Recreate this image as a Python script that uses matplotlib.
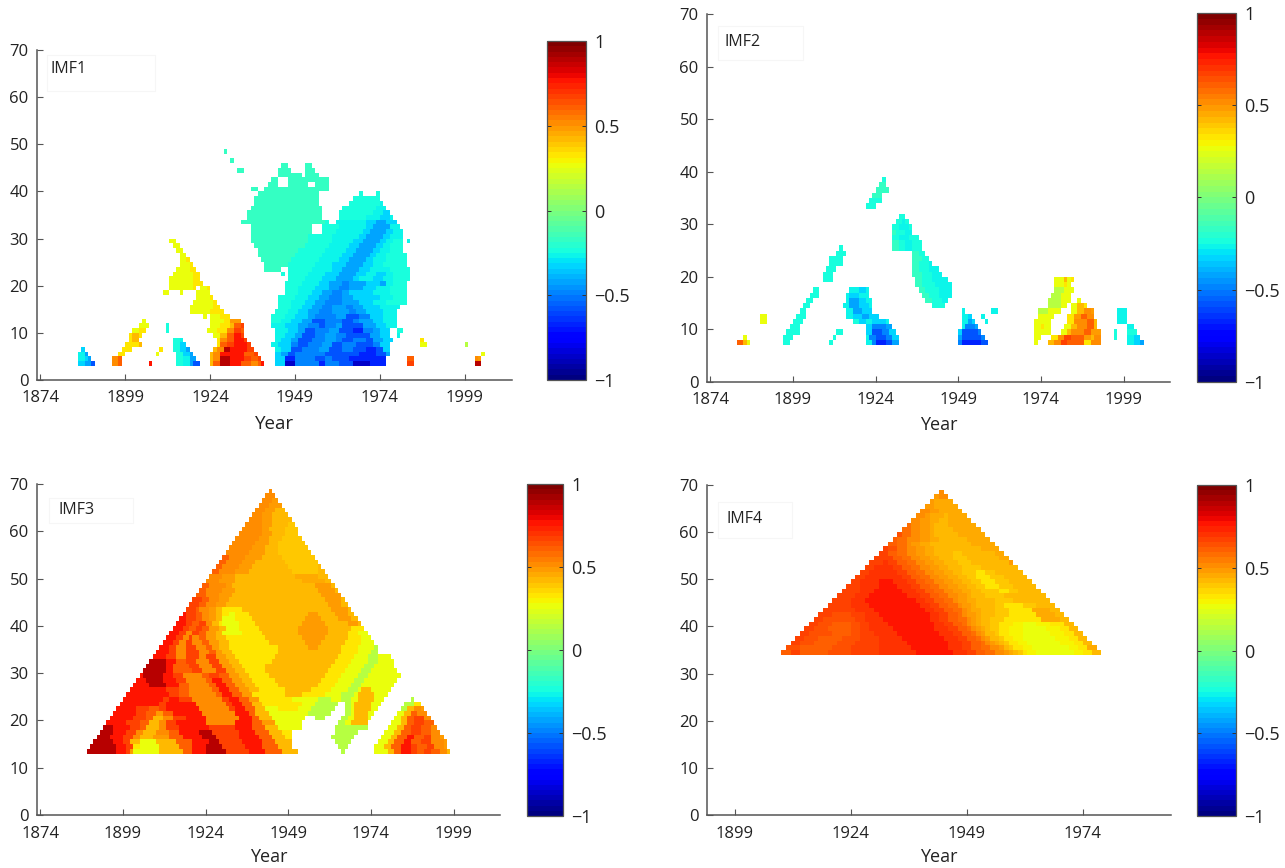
import numpy as np
import matplotlib
matplotlib.use("Agg")
import matplotlib.pyplot as plt
from matplotlib.patches import Rectangle

plt.rcParams['font.family'] = ['Open Sans', 'DejaVu Sans']

LEVEL_CHARS = list("abcdefghijklmnopqrstuLMNOPQR")
LEVEL_VALUES = [-0.85, -0.68, -0.57, -0.49, -0.41, -0.34, -0.28, -0.23, -0.18, 0.0, 0.15,
                0.25, 0.34, 0.42, 0.48, 0.53, 0.6, 0.67, 0.76, 0.88, 0.97,
                0.29, 0.38, 0.45, 0.505, 0.565, 0.635, 0.715]

YEAR_TICKS = [1874, 1899, 1924, 1949, 1974, 1999]
YEAR_TICKS_4 = [1899, 1924, 1949, 1974]
DEPTH_TICKS = [0, 10, 20, 30, 40, 50, 60, 70]
CBAR_TICKS = [-1, -0.5, 0, 0.5, 1]
CBAR_LABELS = ['\u22121', '\u22120.5', '0', '0.5', '1']

# each row: window value -> "start-year(offset from 1800)+level" runs; '.' = no value
IMF1_ROWS = {
 3: "85f 87e 89c 90. 95p 97q 98. 106s 107. 114h 116g 118e 119c 121. 124n 125q 127t 130s 133q 136p 138q 139s 140. 143f 146a 149d 156b 158d 162c 166a 171b 176. 182r 184. 202t 204.",
 4: "85g 87f 88e 89. 95p 97q 98. 114h 116g 118e 120. 124n 125p 127t 130s 134r 136q 138r 139. 143f 146b 149d 155c 158d 160c 165b 171b 176. 182q 184. 202p 203o 204.",
 5: "85g 87e 88. 97m 99. 108l 109. 114h 116f 118e 119. 124n 125p 127s 134q 137r 138. 143f 145e 147c 149d 158c 165c 168b 173c 176e 177. 204l 205.",
 6: "86f 87. 98m 101. 109m 110. 113h 115f 117e 118. 125n 126p 128t 130s 135r 137. 143g 145f 148c 151d 156e 159c 163d 166c 170b 173c 175f 177.",
 7: "99m 103n 104. 113h 115f 117. 126m 127q 129r 131s 135r 136. 142g 144f 148d 150c 153d 157e 160c 163d 167c 170c 172d 174f 177. 186l 188. 199k 200.",
 8: "100m 101n 103. 113h 115g 116. 126m 127p 129q 131s 134r 135. 143g 145f 148e 150c 154d 158e 161d 163c 166d 170c 172e 175f 178. 186m 187.",
 9: "100m 101n 103m 104. 125l 127n 129q 131s 133r 134. 143g 146f 149e 151c 155d 158e 161d 164c 168c 171e 174f 177. 179g 180.",
 10: "101l 103m 105. 111h 112. 123l 126m 129p 131r 133q 134. 143g 147f 150e 152c 155d 159e 162c 166b 169d 172e 174f 177. 179h 181.",
 11: "103l 106. 111h 112. 124l 127m 130n 131q 133r 134. 142g 146f 150e 153d 156c 158d 161e 163c 167c 169e 173f 176g 179.",
 12: "104l 105. 124l 128m 130o 133. 142h 145g 148f 151e 154c 158d 161d 163c 166d 168e 172f 175g 179.",
 13: "122l 123. 124l 127m 130. 142h 146g 149f 153e 155d 158d 161e 164c 166c 168d 171f 175g 179.",
 14: "118l 124m 128. 143h 147g 150f 153e 156d 160e 162e 165d 167e 170f 175g 179.",
 15: "118l 125m 127. 144h 148g 151f 154e 157d 160e 164d 166e 169f 174g 180.",
 16: "119l 125m 126. 144h 148g 152f 155e 158d 161d 163e 165e 168f 172g 176h 182.",
 17: "120l 124m 125. 144h 149g 153f 156e 159d 163e 166f 170f 174g 178h 182.",
 18: "110l 112. 115l 116. 120l 124. 146h 150g 154f 157e 160d 163e 165f 168f 172g 177h 182.",
 19: "112l 119m 120. 121l 123m 124. 146h 150g 155f 159e 162d 165e 169f 173g 177h 182.",
 20: "112l 119m 122. 146h 151g 156f 159e 163d 165e 170f 174e 176g 178h 182.",
 21: "112l 119m 121. 147h 152g 157f 161e 164e 166f 168g 172f 175g 178h 183.",
 22: "113l 119m 121. 145h 146. 147h 153g 158f 162e 165e 167f 170g 173f 176g 178h 183.",
 23: "114l 118m 120. 140i 145. 147h 154g 160f 163e 166e 168f 171g 174g 177h 183.",
 24: "115l 118m 119. 140i 147h 155g 160f 164e 167e 169f 172g 175h 182.",
 25: "115l 117m 118. 139i 148h 156g 162f 165e 168e 170f 172g 176h 182.",
 26: "115l 117. 138i 149h 157g 163f 166e 169e 171f 173g 176h 182.",
 27: "114l 116. 138i 150h 158g 164f 167e 170e 172f 174g 177h 181.",
 28: "113l 115. 137i 152h 159g 165f 168e 171e 173f 175g 177h 181.",
 29: "112l 114. 136i 153h 160g 166f 169e 172e 174f 176g 178h 181. 182g 183.",
 30: "136i 153h 160g 168f 170e 173e 175f 177g 181.",
 31: "136i 154. 157h 161g 169f 171e 174e 176f 178g 181.",
 32: "136i 154. 157h 162g 170f 172e 174e 177g 180.",
 33: "133i 158h 159. 161g 170f 173e 176f 179.",
 34: "135i 157. 162h 170g 174f 177g 178.",
 35: "135i 157. 162h 172g 175f 177.",
 36: "136i 157. 163h 173g 176.",
 37: "137i 156. 165h 174g 175.",
 38: "137i 156. 166h 174.",
 39: "138i 156. 168h 169. 173h 174.",
 40: "136i 138. 140i 159.",
 41: "141i 144. 147i 153. 155i 159.",
 42: "142i 144. 147i 159.",
 43: "144i 151. 152i 156.",
 44: "132i 134. 144i 148. 152i 155.",
 45: "145i 147. 152i 154.",
 46: "130i 131.",
 48: "128i 129.",
}

IMF2_ROWS = {
 7: "82q 84n 85l 86. 96h 98. 110h 111. 121g 123d 124b 127c 129e 131. 149d 150b 156c 158. 172l 173. 176n 178p 180r 182q 187m 189p 192. 200g 202f 204e 205.",
 8: "84l 85. 96h 99. 111h 112. 121g 122d 124c 127d 129f 131. 149e 150c 156d 157. 172l 174. 177m 179p 181r 183q 187o 189n 190p 192. 196h 197. 200g 202f 204.",
 9: "97h 101. 112h 114. 121f 123c 126d 128f 130. 149f 150c 155d 156. 172l 177. 180l 182n 183p 187q 189o 192. 196h 197. 200h 203.",
 10: "98h 101. 121f 123d 127e 129. 150g 151d 154e 155. 172l 174m 175l 177. 181l 183n 185p 188q 190n 191. 200g 202.",
 11: "89l 91. 99h 102. 117h 119f 121g 123f 127g 128. 150g 152e 153f 154. 157g 158. 172l 177. 182m 184p 188q 190n 191. 197g 200.",
 12: "89l 91. 100h 103. 115g 117f 120e 122f 125. 150g 152f 153. 156g 157. 173l 178. 182m 184o 186q 188p 190. 197g 200.",
 13: "101h 103. 115g 117e 120f 123. 150g 151. 159g 161. 173k 176l 180. 183l 185n 187p 189o 190. 197g 200.",
 14: "102h 104. 114g 116e 119f 122g 123. 141h 145. 176k 180l 182. 183l 185n 187m 188.",
 15: "103h 105. 115g 116e 119f 121g 123. 139i 141h 144g 146. 176k 180l 183. 185l 186.",
 16: "104h 107. 115g 116f 119g 122. 138i 140h 143g 147. 177k 180l 183.",
 17: "105h 107. 116g 119f 121g 122. 137i 139h 143g 147. 178k 181l 184.",
 18: "136i 138h 142g 147. 178l 181m 182l 183.",
 19: "108h 111. 136i 138h 141g 146. 178l 181n 182l 183m 184.",
 20: "108h 111. 135i 138h 141g 144.",
 21: "109h 112. 135i 137h 140g 143.",
 22: "110h 114. 135i 137h 140g 141.",
 23: "110h 114. 135i 138h 140.",
 24: "112h 115. 135i 137h 139.",
 25: "113h 114. 129i 131h 133g 135h 138.",
 26: "129i 131h 133g 135h 138.",
 27: "129h 131g 134h 137.",
 28: "129i 130h 133g 135.",
 29: "129h 131g 134h 135.",
 30: "130h 132g 133h 134.",
 31: "131h 133.",
 33: "121h 124.",
 34: "122h 126.",
 35: "123i 126.",
 36: "124i 128.",
 37: "125i 127.",
 38: "126h 127.",
}

IMF3_ROWS = {
 13: "88t 97s 100r 101o 102l 110n 117q 120s 124t 130r 137s 142q 147n 152. 165k 166. 175l 179n 181q 183s 186r 188q 190r 192q 195p 197n 198.",
 14: "89t 97s 100r 102m 104l 110n 116q 120s 124t 129r 136s 141q 146n 150. 164k 167. 175l 178n 180q 183s 186r 188q 191r 193p 196o 197.",
 15: "90t 96s 99r 101n 104l 109n 115q 120s 125t 128r 135s 141q 145n 150. 163k 168. 176l 179n 181q 184s 186q 189r 192p 196o 197.",
 16: "91t 95s 99r 102p 104n 108o 113q 117s 123t 127r 134s 140q 144n 148m 150. 162k 169. 177l 180n 182q 185s 187q 190r 192p 195o 196.",
 17: "92t 96s 100r 103p 105n 109p 113q 116s 122t 126r 134s 139q 143n 147m 150. 163k 170. 178l 181n 183q 186r 189q 192p 195.",
 18: "93t 96s 101r 104q 106n 110p 112r 116s 125r 133s 138q 142n 146l 153. 163k 173. 179l 182n 184q 186r 189q 192p 194.",
 19: "94s 100r 104q 107n 110p 112r 115s 124p 133s 138q 141o 145l 153. 164k 166l 168n 173. 180l 183n 185q 187r 190q 193.",
 20: "95s 102r 106q 108n 111p 114r 118s 124p 134s 138q 140n 144l 154. 157k 160. 165k 167l 169n 173l 174. 181l 183n 185q 187r 190p 192.",
 21: "96s 103r 106q 109o 111q 114s 123p 133s 137q 139n 143l 155k 162. 166k 168l 169n 173l 175. 182l 184n 186q 188p 191.",
 22: "97s 103r 107q 110r 112s 122p 131r 133s 136q 139n 142l 146m 152l 156k 163. 166k 168l 169n 174l 176. 183k 185n 187p 189o 190.",
 23: "98s 110r 112s 121p 130r 132s 135q 138n 141m 153l 157k 164. 166k 168l 169n 174l 177. 184k 187m 189.",
 24: "99s 111r 113s 116r 120p 129r 131s 134q 137o 140m 150l 158k 162l 165k 168l 170n 175l 178. 186k 187.",
 25: "100s 113r 116q 119p 127q 129s 132q 135o 138m 148n 153m 160l 165k 169l 170n 175l 179.",
 26: "101s 112r 116q 119p 126q 128s 131q 134o 137n 140m 148n 156m 162l 167k 170l 171n 174l 180.",
 27: "102s 107t 112s 116q 119p 125q 127s 130q 133o 136n 139m 146n 158m 163l 168k 171l 181.",
 28: "103s 106t 111s 115r 118p 124q 126s 129q 132o 135n 138m 145n 159m 164l 169k 172l 182.",
 29: "104s 105t 111s 114r 117p 123q 125r 128q 131o 134n 137m 143n 160m 165l 170k 173l 183.",
 30: "105t 112s 114q 120r 123p 127r 130o 133n 136m 142n 161m 166l 171k 174l 182.",
 31: "106t 112s 114q 119r 122p 126r 129o 132n 135m 142n 162m 167l 172k 175l 181.",
 32: "107t 112s 115q 118r 121p 125r 128o 131n 134m 144n 163m 168l 173k 176l 181.",
 33: "108s 112r 115p 118r 122p 124r 127o 130n 133m 145n 164m 169l 173k 176l 180.",
 34: "109s 113r 115p 118r 122p 125q 127o 129n 132m 146n 165m 170l 174k 176.",
 35: "110s 113r 115p 118r 121p 124q 126o 128n 131m 146n 155o 158n 165m 170l 175k 176.",
 36: "111s 114r 116p 118r 120p 123q 125o 128n 131m 143n 154o 159n 166m 171l 175.",
 37: "112s 115r 117p 119r 120p 122q 124o 127n 130m 142n 153o 160n 167m 171l 174.",
 38: "113s 116r 118p 120r 122q 124o 127n 129l 135m 141n 152o 161n 167m 170l 173.",
 39: "114s 117r 119q 121r 123q 125o 128n 130l 134m 140n 152o 161n 168m 172.",
 40: "115s 118r 120q 122r 124p 126n 128m 129l 134m 139n 153o 160n 167o 170n 171.",
 41: "116s 118r 121q 123p 125o 127n 129l 133m 138n 154o 159n 164o 168n 170.",
 42: "117s 118r 121q 123p 125o 127n 129m 131l 133m 137n 155o 158n 163o 167n 169.",
 43: "118r 121q 122p 125o 127n 129m 135n 162o 167n 168.",
 44: "119r 122q 124p 127o 130n 161o 165n 167.",
 45: "120r 123q 125p 128o 131n 160o 165n 166.",
 46: "121q 124p 128o 132n 159o 165.",
 47: "122q 124p 129o 133n 158o 163n 164.",
 48: "123q 125p 130o 132n 157o 162n 163.",
 49: "124p 128o 133n 153N 160n 162.",
 50: "125p 129o 133n 151N 158n 161.",
 51: "126q 128p 133o 137n 150M 158n 160.",
 52: "127q 129p 134o 138n 149M 158n 159.",
 53: "128q 130p 135o 139n 148M 158.",
 54: "129q 131p 136o 141n 147M 157.",
 55: "130p 137o 142n 146M 156.",
 56: "131p 138o 142n 146M 155.",
 57: "132p 139o 143n 146M 154.",
 58: "133p 140o 143n 147M 153.",
 59: "134p 141o 144n 148M 152.",
 60: "135p 141o 143n 148M 152.",
 61: "136p 141o 144n 149M 151.",
 62: "137p 141o 144n 150.",
 63: "138p 141o 144n 149.",
 64: "139p 142o 145n 148.",
 65: "140p 143o 147.",
 66: "141p 144o 146.",
 67: "142p 145.",
 68: "143p 144.",
}

IMF4_ROWS = {
 34: "109q 111r 113q 119Q 124r 130R 138s 146R 149r 151q 153P 155p 156O 157o 158N 159n 160M 161m 162L 164l 172L 174m 176n 178.",
 35: "110Q 113q 120Q 124r 130R 137s 145R 148r 150q 152P 154p 155O 156o 157n 158M 159m 161L 163l 171L 173m 175N 177.",
 36: "111r 113Q 116q 121Q 125r 130R 136s 145R 148r 150q 152P 153p 154o 155N 156n 157M 158m 160L 162l 169L 172m 174n 176.",
 37: "112r 114Q 117q 122Q 126r 130R 135s 144R 147r 149q 151P 152p 153o 154n 156M 157m 159L 161l 168L 171m 173n 175.",
 38: "113r 115Q 120q 124Q 126r 129R 134s 143R 146r 148q 150P 151p 152o 153n 155M 156m 158L 161l 167L 170m 172n 174.",
 39: "114r 116Q 119q 124Q 126r 128R 133s 142R 145r 147q 149P 150p 151o 152N 153n 154M 156m 158L 161l 166L 169m 171n 173.",
 40: "115r 117Q 120q 124Q 126r 128R 132s 142R 144r 146q 148P 149p 150o 151N 152n 154M 156m 159L 161l 164L 167m 170n 172.",
 41: "116r 118Q 121Q 125r 127R 131s 141R 143r 145q 147P 149p 150o 151N 152n 154M 157m 165N 169n 171.",
 42: "117r 120Q 124r 127R 130s 141R 143r 145q 147P 148p 149o 151N 152n 155M 158m 164N 168n 170.",
 43: "118r 125R 129s 140R 142r 144q 146P 148p 149o 150N 152n 155M 158m 163N 167n 169.",
 44: "119r 124R 128s 139R 141r 143q 145P 147p 148o 150N 151n 155M 157m 161M 164n 168.",
 45: "120r 124R 127s 138R 140r 142q 144P 146p 147o 149N 151n 155M 159n 167.",
 46: "121r 125R 128s 136R 139r 141q 143P 145p 147o 149N 150n 153M 157n 166.",
 47: "122r 126R 129s 135R 138r 140q 142P 144p 146o 148N 150n 152M 156m 158M 160n 165.",
 48: "123r 126R 130s 134R 137r 139q 141P 143p 145o 147N 149n 151M 153m 156M 159n 164.",
 49: "124r 126R 130s 133R 136r 138q 140P 142p 144o 146N 148n 150M 152m 155M 158n 163.",
 50: "125r 127R 135r 137q 139P 141p 143o 145N 147n 149M 151m 154M 157n 162.",
 51: "126r 128R 134r 136q 138P 140p 142o 144N 146n 148M 151m 153M 155n 161.",
 52: "127r 129R 133r 135q 137P 139p 141o 143N 145n 148M 152n 160.",
 53: "128r 131R 132r 134q 136P 138p 140o 142N 144n 147M 150n 158o 159.",
 54: "129r 133q 135P 137p 139o 141N 143n 146M 149n 156N 158.",
 55: "130r 132q 134P 136p 138o 140N 142n 146M 148n 155N 157.",
 56: "131r 132Q 134P 136p 138o 140N 142n 147n 152N 156.",
 57: "132q 134P 136p 137o 139N 141n 150N 155.",
 58: "133q 134P 136p 138O 139o 141N 143n 149N 154.",
 59: "134Q 135P 137p 139o 141N 142n 147N 153.",
 60: "135P 137p 139o 141N 142n 146N 152.",
 61: "136P 137p 139o 141N 142n 145N 151.",
 62: "137p 139o 141N 143n 145N 150.",
 63: "138p 140o 141N 144n 145N 149.",
 64: "139p 141o 143N 148.",
 65: "140o 142N 147.",
 66: "141o 142N 146.",
 67: "142o 143p 145.",
 68: "143p 144.",
}

W, H = 1285, 868
FIRST_YEAR, LAST_YEAR = 1800, 2020
VALUE_OF = dict(zip(LEVEL_CHARS, LEVEL_VALUES))


def grid_from_rows(rows):
    years = np.arange(FIRST_YEAR, LAST_YEAR + 1)
    depth = np.arange(0, 71)
    z = np.full((depth.size - 1, years.size - 1), np.nan)
    for r, text in rows.items():
        tokens = text.split()
        for tok, nxt in zip(tokens, tokens[1:]):
            a, lev = int(tok[:-1]), tok[-1]
            b = int(nxt[:-1])
            if lev != '.':
                z[r, a:b] = VALUE_OF[lev]
    return years, depth, np.ma.masked_invalid(z)


def axes_px(l, r, t, b):
    return fig.add_axes([l / W, 1 - b / H, (r - l) / W, (b - t) / H])


fig = plt.figure(figsize=(W / 100, H / 100), dpi=100, facecolor='white')
cmap = plt.get_cmap('jet', 64)
GREY = '#555555'
TXT = '#222222'

# name, rows, axes box, x range, x ticks, colourbar box, label box, label x, label y,
# Year size, tick pad, Year pad
PANELS = [
    ("IMF1", IMF1_ROWS, (37, 512, 50, 380), (1873, 2013), YEAR_TICKS, (547, 586, 41, 380), (47, 155, 55, 91), 51, 69, 13.5, 7, 7),
    ("IMF2", IMF2_ROWS, (707, 1170, 14, 382), (1873, 2013), YEAR_TICKS, (1197, 1236, 13, 382), (718, 803, 26, 60), 725, 42, 13, 7, 6),
    ("IMF3", IMF3_ROWS, (37, 500, 484, 815), (1873, 2013), YEAR_TICKS, (527, 563, 484, 816), (49, 133, 498, 523), 58, 510, 13, 8, 4),
    ("IMF4", IMF4_ROWS, (707, 1171, 485, 815), (1893, 1993), YEAR_TICKS_4, (1197, 1236, 485, 816), (718, 792, 502, 538), 727, 519, 13, 8, 4),
]

for name, rows, box, xlim, xticks, cbox, lbox, lx, ly, xfs, tpad, ypad in PANELS:
    ax = axes_px(*box)
    years, depth, z = grid_from_rows(rows)
    m = ax.pcolormesh(years, depth, z, cmap=cmap, vmin=-1, vmax=1, shading='flat',
                      linewidth=0, antialiased=False, rasterized=True)
    ax.set_xlim(*xlim)
    ax.set_ylim(0, 70)
    ax.set_xticks(xticks)
    ax.set_yticks(DEPTH_TICKS)
    for s in ('top', 'right'):
        ax.spines[s].set_visible(False)
    for s in ('left', 'bottom'):
        ax.spines[s].set_color(GREY)
        ax.spines[s].set_linewidth(1.1)
    ax.tick_params(axis='both', direction='in', length=4, width=0.8, color=GREY,
                   labelsize=12, labelcolor=TXT)
    ax.tick_params(axis='x', pad=tpad)
    ax.tick_params(axis='y', pad=6)
    ax.set_xlabel('Year', fontsize=xfs, color=TXT, labelpad=ypad)

    cax = axes_px(*cbox)
    cb = fig.colorbar(m, cax=cax, orientation='vertical')
    cb.set_ticks(CBAR_TICKS)
    cb.set_ticklabels(CBAR_LABELS)
    cb.outline.set_edgecolor(GREY)
    cb.outline.set_linewidth(0.9)
    cax.tick_params(axis='y', direction='in', length=3, width=0.7, color='#333333',
                    left=True, right=True, labelsize=13, labelcolor=TXT, pad=6)

    l, r, t, b = lbox
    fig.add_artist(Rectangle((l / W, 1 - b / H), (r - l) / W, (b - t) / H,
                             transform=fig.transFigure, facecolor='white',
                             edgecolor='#f6f6f6', linewidth=0.8))
    fig.text(lx / W, 1 - ly / H, name, fontsize=11.5, color=TXT, ha='left', va='center')

fig.savefig('out.png', dpi=100, facecolor='white')
